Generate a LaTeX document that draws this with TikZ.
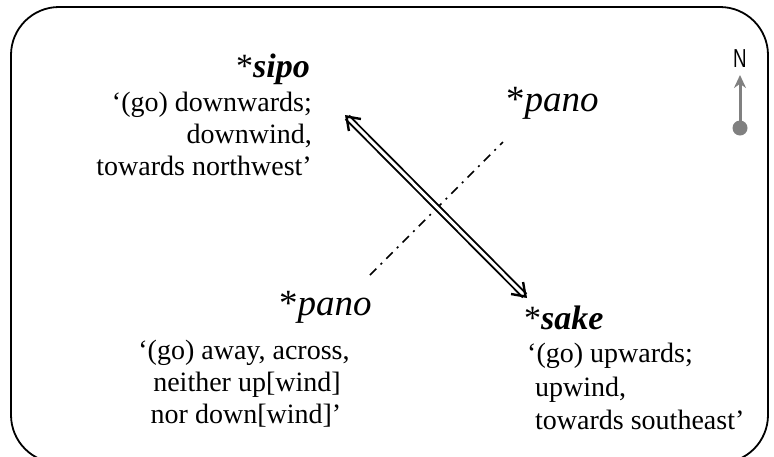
\documentclass[tikz,border=0pt]{standalone}
\usepackage{fontspec}
\setmainfont{Liberation Serif}
\newfontfamily\compassfont{Liberation Sans}
\usetikzlibrary{arrows.meta}
\begin{document}
\begin{tikzpicture}[x=1pt,y=-1pt,
  body/.style={font=\fontsize{28}{32}\selectfont, inner sep=0pt},
  title/.style={font=\fontsize{34}{38}\selectfont, inner sep=0pt},
  ptitle/.style={font=\fontsize{37}{40}\selectfont, inner sep=0pt},
  dblarrow/.style={line width=1.9pt, double=white, double distance=3pt,
    {Straight Barb[length=12pt,width=17pt,line width=2.4pt]}-{Straight Barb[length=12pt,width=17pt,line width=2.4pt]}},
  dashdot/.style={line width=1.7pt, dash pattern=on 9pt off 6pt on 2pt off 6pt},
  compass/.style={draw=gray, line width=3pt, -{Stealth[length=13pt,width=12pt]}}
]
\useasboundingbox (0,0) rectangle (774,456);
\begin{scope}
\clip (0,0) rectangle (774,456);
\draw[line width=1.8pt, rounded corners=48pt] (11,7) rectangle (768,463);
\end{scope}

% sipo block
\node[title, anchor=base east] (sipo) at (310,77) {*\textbf{\textit{sipo}}};
\node[body, anchor=base east] (sipoA) at (312,111) {`(go) downwards;};
\node[body, anchor=base east] (sipoB) at (312,143) {downwind,};
\node[body, anchor=base east] (sipoC) at (312,175) {towards northwest'};

% top right pano
\node[ptitle, anchor=base west] (panoTR) at (506,111) {*\textit{pano}};

% bottom left pano
\node[ptitle, anchor=base west] (panoBL) at (279,315) {*\textit{pano}};
\node[body, anchor=base] (panoA) at (244,359) {`(go) away, across,};
\node[body, anchor=base] (panoB) at (247,391) {neither up[wind]};
\node[body, anchor=base] (panoC) at (246,423) {nor down[wind]'};

% sake block
\node[title, anchor=base west] (sake) at (524,329) {*\textbf{\textit{sake}}};
\node[body, anchor=base west] (sakeA) at (527,362) {`(go) upwards;};
\node[body, anchor=base west] (sakeB) at (535,396) {upwind,};
\node[body, anchor=base west] (sakeC) at (535,429) {towards southeast'};

% arrows
\coordinate (nw) at (345,115);
\coordinate (se) at (527,298);
\coordinate (ddA) at (370,275);
\coordinate (ddB) at (503,142);
\draw[dashdot] (ddA) -- (ddB);
\draw[dblarrow] (nw) -- (se);

% compass
\node[font=\compassfont\fontsize{26}{26}\selectfont, inner sep=0pt, anchor=base] (N) at (740,67) {\scalebox{0.72}[1]{N}};
\coordinate (cbase) at (740,128);
\coordinate (ctip) at (740,75);
\fill[gray] (cbase) circle (7.5);
\draw[compass] (cbase) -- (ctip);
\end{tikzpicture}
\end{document}
